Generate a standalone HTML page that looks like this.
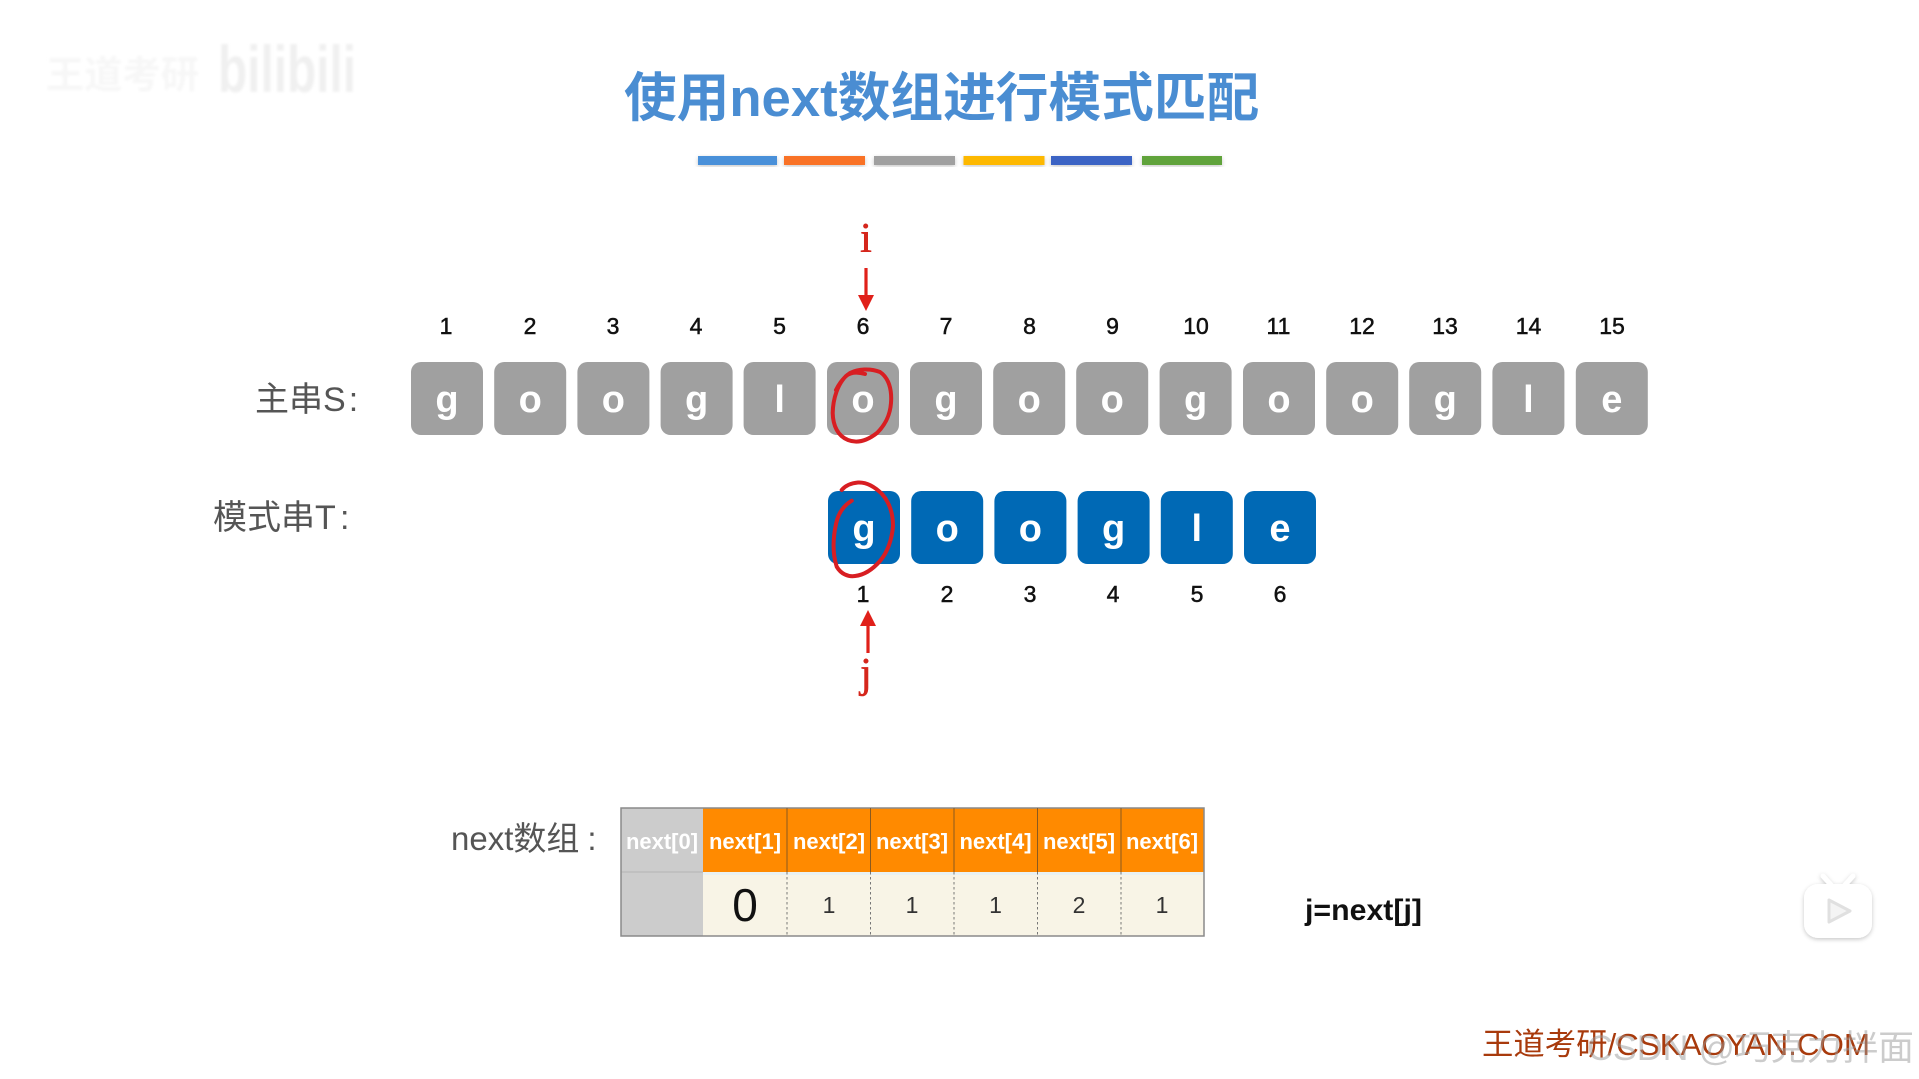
<!DOCTYPE html>
<html lang="zh">
<head>
<meta charset="utf-8">
<title>使用next数组进行模式匹配</title>
<style>
html,body{margin:0;padding:0;background:#fff;width:1919px;height:1079px;overflow:hidden}
svg{display:block;position:absolute;left:0;top:0}
text{font-family:"Liberation Sans","Noto Sans CJK SC",sans-serif}
.n{font-size:23px;fill:#111;text-anchor:middle;stroke:#111;stroke-width:.5}
.l{font-size:38px;fill:#fff;text-anchor:middle;font-weight:bold}
.lab{font-size:34px;fill:#555}
.h{font-size:22px;fill:#fff;text-anchor:middle;font-weight:bold}
.v{font-size:23px;fill:#333;text-anchor:middle}
.p{font-family:"Liberation Serif",serif;font-size:42px;fill:#d5261c;text-anchor:middle;stroke:#d5261c;stroke-width:.6}
</style>
</head>
<body>
<svg width="1919" height="1079" viewBox="0 0 1919 1079" xmlns="http://www.w3.org/2000/svg">
<defs>
<filter id="blur" x="-20%" y="-50%" width="140%" height="200%"><feGaussianBlur stdDeviation="1.2"/></filter>
<filter id="sh" x="-20%" y="-20%" width="140%" height="140%"><feDropShadow dx="0" dy="1.5" stdDeviation="2" flood-color="#000" flood-opacity=".22"/></filter>
</defs>
<rect width="1919" height="1079" fill="#fff"/>

<!-- watermark -->
<text x="46" y="88" font-size="38" fill="#f7f7f7" font-weight="bold" textLength="153" lengthAdjust="spacingAndGlyphs" filter="url(#blur)">王道考研</text>
<text x="218" y="92" font-size="66" fill="#f0f0f0" font-weight="bold" textLength="138" lengthAdjust="spacingAndGlyphs" filter="url(#blur)">bilibili</text>

<!-- title -->
<text x="624" y="116" font-size="52.7" font-weight="bold" fill="#4a8dd2">使用next数组进行模式匹配</text>

<!-- colour bars -->
<g filter="url(#sh)">
<rect x="698" y="156" width="79" height="9" fill="#4a90d9"/>
<rect x="784" y="156" width="81" height="9" fill="#f97225"/>
<rect x="874" y="156" width="81" height="9" fill="#a0a0a0"/>
<rect x="963.5" y="156" width="81" height="9" fill="#fdb800"/>
<rect x="1051" y="156" width="81" height="9" fill="#3a64c4"/>
<rect x="1142" y="156" width="80" height="9" fill="#61a33a"/>
</g>

<!-- i pointer -->
<text class="p" x="866" y="252">i</text>
<line x1="866" y1="268" x2="866" y2="296" stroke="#e0201a" stroke-width="3.2"/>
<polygon points="858,295 874,295 866,311" fill="#e0201a"/>

<!-- S indices -->
<text class="n" x="446" y="334">1</text><text class="n" x="530" y="334">2</text><text class="n" x="613" y="334">3</text><text class="n" x="696" y="334">4</text><text class="n" x="779.5" y="334">5</text><text class="n" x="863" y="334">6</text><text class="n" x="946" y="334">7</text><text class="n" x="1029.5" y="334">8</text><text class="n" x="1112.5" y="334">9</text><text class="n" x="1196" y="334">10</text><text class="n" x="1278.5" y="334">11</text><text class="n" x="1362" y="334">12</text><text class="n" x="1445" y="334">13</text><text class="n" x="1528.5" y="334">14</text><text class="n" x="1612" y="334">15</text>

<!-- labels -->
<text class="lab" x="255" y="411">主串S<tspan dx="3">:</tspan></text>
<text class="lab" x="213" y="529">模式串T<tspan dx="8">:</tspan></text>
<text class="lab" x="451" y="850" style="font-size:33px">next数组<tspan dx="8">:</tspan></text>

<!-- S boxes -->
<g fill="#a0a0a0">
<rect x="411" y="362" width="72" height="73" rx="10"/><rect x="494.2" y="362" width="72" height="73" rx="10"/><rect x="577.4" y="362" width="72" height="73" rx="10"/><rect x="660.6" y="362" width="72" height="73" rx="10"/><rect x="743.6" y="362" width="72" height="73" rx="10"/><rect x="827" y="362" width="72" height="73" rx="10"/><rect x="910" y="362" width="72" height="73" rx="10"/><rect x="993.2" y="362" width="72" height="73" rx="10"/><rect x="1076.2" y="362" width="72" height="73" rx="10"/><rect x="1159.6" y="362" width="72" height="73" rx="10"/><rect x="1243" y="362" width="72" height="73" rx="10"/><rect x="1326.2" y="362" width="72" height="73" rx="10"/><rect x="1409.2" y="362" width="72" height="73" rx="10"/><rect x="1492.4" y="362" width="72" height="73" rx="10"/><rect x="1575.8" y="362" width="72" height="73" rx="10"/>
</g>
<text class="l" x="447" y="412">g</text><text class="l" x="530.2" y="412">o</text><text class="l" x="613.4" y="412">o</text><text class="l" x="696.6" y="412">g</text><text class="l" x="779.6" y="412">l</text><text class="l" x="863" y="412">o</text><text class="l" x="946" y="412">g</text><text class="l" x="1029.2" y="412">o</text><text class="l" x="1112.2" y="412">o</text><text class="l" x="1195.6" y="412">g</text><text class="l" x="1279" y="412">o</text><text class="l" x="1362.2" y="412">o</text><text class="l" x="1445.2" y="412">g</text><text class="l" x="1528.4" y="412">l</text><text class="l" x="1611.8" y="412">e</text>

<!-- T boxes -->
<g fill="#0069b5">
<rect x="828" y="491" width="72" height="73" rx="10"/><rect x="911.2" y="491" width="72" height="73" rx="10"/><rect x="994.4" y="491" width="72" height="73" rx="10"/><rect x="1077.6" y="491" width="72" height="73" rx="10"/><rect x="1160.8" y="491" width="72" height="73" rx="10"/><rect x="1244" y="491" width="72" height="73" rx="10"/>
</g>
<text class="l" x="864" y="541">g</text><text class="l" x="947.2" y="541">o</text><text class="l" x="1030.4" y="541">o</text><text class="l" x="1113.6" y="541">g</text><text class="l" x="1196.8" y="541">l</text><text class="l" x="1280" y="541">e</text>

<!-- T indices -->
<text class="n" x="863" y="602">1</text><text class="n" x="947" y="602">2</text><text class="n" x="1030" y="602">3</text><text class="n" x="1113" y="602">4</text><text class="n" x="1197" y="602">5</text><text class="n" x="1280" y="602">6</text>

<!-- j pointer -->
<polygon points="860,626 876,626 868,610" fill="#e0201a"/>
<line x1="868" y1="625" x2="868" y2="653" stroke="#e0201a" stroke-width="3.2"/>
<text class="p" x="866" y="687">j</text>

<!-- hand-drawn circles -->
<path d="M865,374 C858,372 851,372 846,376 C838,384 833,398 832.7,413 C833,426 838,436 848,440 C858,444 868,440 877,433 C885,425 890,416 891,403 C892,390 889,378 880,372 C870,368 858,369 850,373 C844,377 840,382 836,390" fill="none" stroke="#d81e22" stroke-width="4" stroke-linecap="round"/>
<path d="M851.7,500.7 C843,506 838,514 836,524 C833,538 832,552 836.7,566.7 C841,574 848,577 855,576 C864,575 873,569 880,561 C887,553 892,540 893,526 C893,512 889,502 882,494 C875,487 867,482 858,482.5 C851,483 845,486 841.7,490" fill="none" stroke="#d81e22" stroke-width="4" stroke-linecap="round"/>

<!-- next table -->
<rect x="621" y="808" width="83" height="128" fill="#cccccc"/>
<rect x="703" y="808" width="501" height="64" fill="#ff8a00"/>
<rect x="703" y="872" width="501" height="64" fill="#f8f4e6"/>
<rect x="703" y="872" width="501" height="3" fill="#e9f1f2"/>
<line x1="621" y1="872" x2="703" y2="872" stroke="#b5b5b5" stroke-width="1"/>
<rect x="621" y="808" width="583" height="128" fill="none" stroke="#8a8a8a" stroke-width="1.5"/>
<g stroke="#8a5a20" stroke-width="1">
<line x1="787" y1="808" x2="787" y2="872"/><line x1="870.5" y1="808" x2="870.5" y2="872"/><line x1="954" y1="808" x2="954" y2="872"/><line x1="1037.5" y1="808" x2="1037.5" y2="872"/><line x1="1121" y1="808" x2="1121" y2="872"/>
</g>
<g stroke="#777" stroke-width="1" stroke-dasharray="2.5 2.5">
<line x1="787" y1="872" x2="787" y2="936"/><line x1="870.5" y1="872" x2="870.5" y2="936"/><line x1="954" y1="872" x2="954" y2="936"/><line x1="1037.5" y1="872" x2="1037.5" y2="936"/><line x1="1121" y1="872" x2="1121" y2="936"/>
</g>
<text class="h" x="662" y="849">next[0]</text><text class="h" x="745" y="849">next[1]</text><text class="h" x="829" y="849">next[2]</text><text class="h" x="912" y="849">next[3]</text><text class="h" x="995.5" y="849">next[4]</text><text class="h" x="1079" y="849">next[5]</text><text class="h" x="1162" y="849">next[6]</text>
<text class="v" x="745" y="921" style="font-size:46px;fill:#111">0</text>
<text class="v" x="829" y="913">1</text><text class="v" x="912" y="913">1</text><text class="v" x="995.5" y="913">1</text><text class="v" x="1079" y="913">2</text><text class="v" x="1162" y="913">1</text>

<text x="1305" y="920" font-size="30" font-weight="bold" fill="#111" textLength="117" lengthAdjust="spacingAndGlyphs">j=next[j]</text>

<!-- tv icon -->
<g filter="url(#sh)">
<path d="M1823,876 L1832,886 M1853,876 L1844,886" stroke="#fff" stroke-width="5" stroke-linecap="round"/>
<rect x="1804" y="884" width="68" height="54" rx="14" fill="#fff"/>
</g>
<path d="M1829,900 L1850,911 L1829,922 Z" fill="#f4f4f4" stroke="#e0e0e0" stroke-width="3" stroke-linejoin="round"/>

<!-- footer -->
<text x="1482" y="1055" font-size="31" fill="#a83a0c" textLength="388" lengthAdjust="spacingAndGlyphs">王道考研/CSKAOYAN.COM</text>
<text x="1587" y="1060" font-size="35" fill="#9a9a9a" fill-opacity=".5" textLength="327" lengthAdjust="spacingAndGlyphs">CSDN @巧克力拌面</text>
</svg>
</body>
</html>
